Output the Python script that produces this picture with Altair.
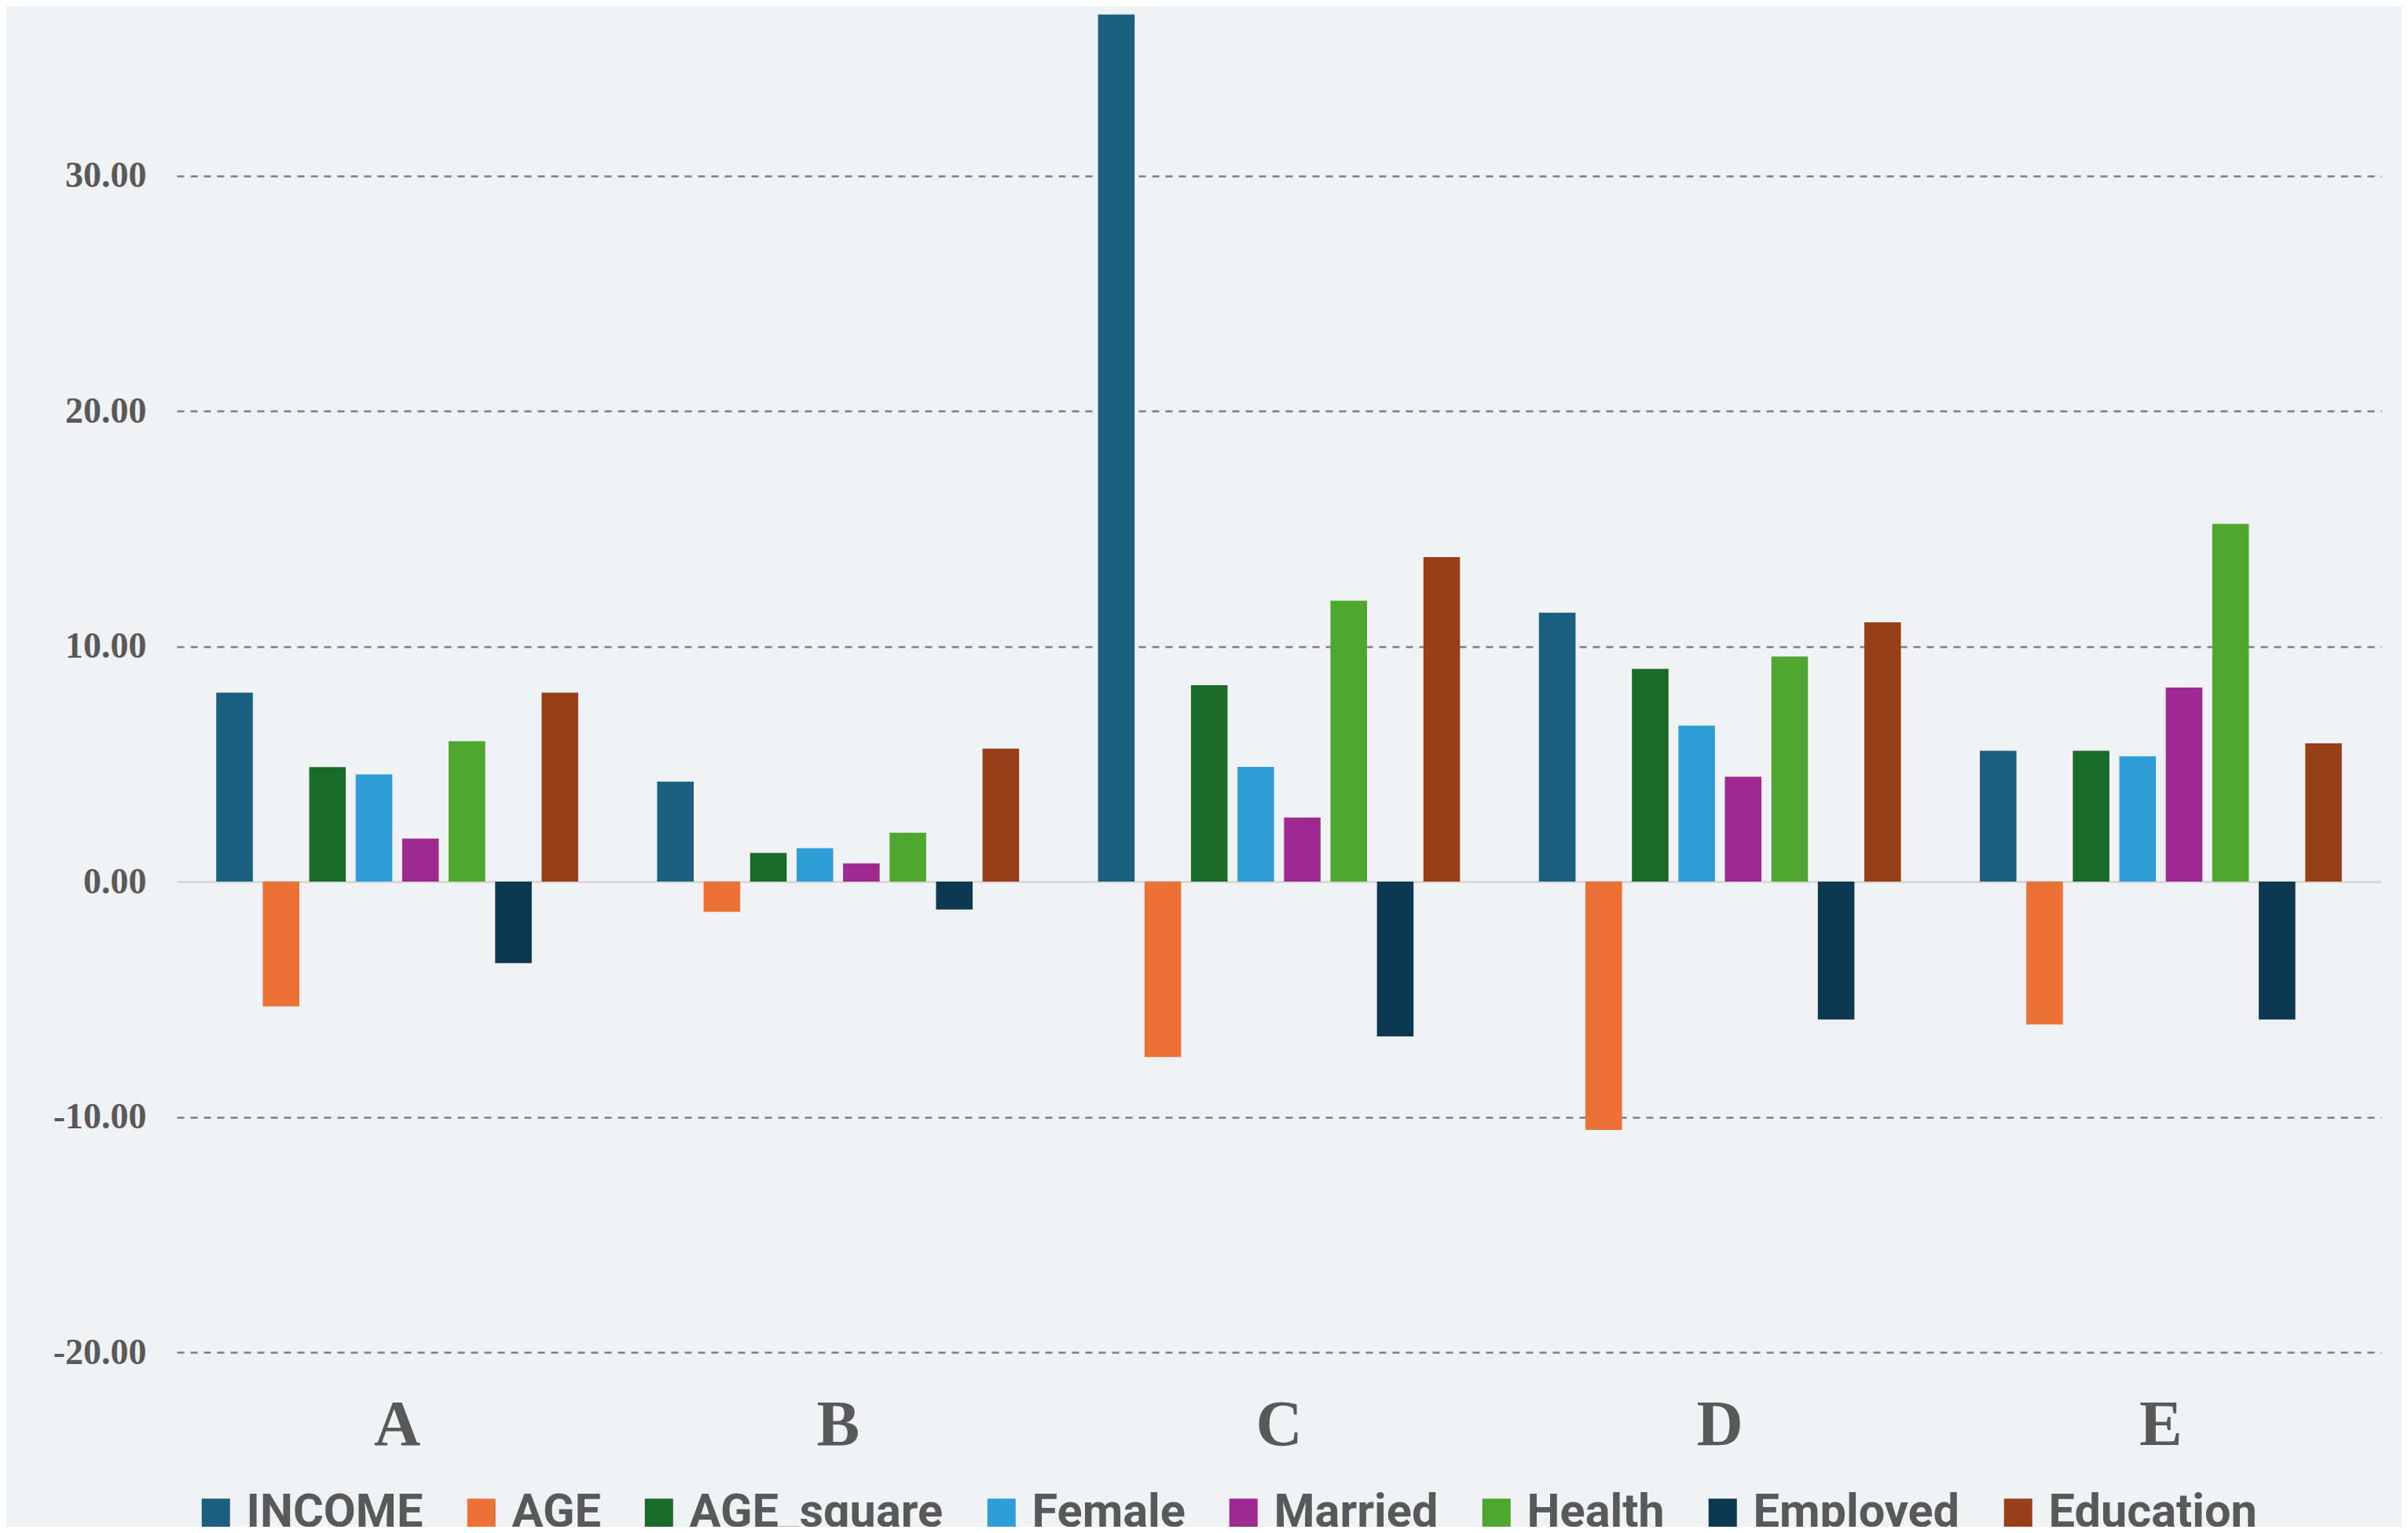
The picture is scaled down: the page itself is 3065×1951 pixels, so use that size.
import altair as alt
import pandas as pd

groups = ["A", "B", "C", "D", "E"]
series = ["INCOME", "AGE", "AGE_square", "Female", "Married", "Health", "Employed", "Education"]
colors = ["#1a5f80", "#eb7234", "#1a6b27", "#2f9ed6", "#9e2a91", "#4fa72f", "#0b3a50", "#973f18"]

income = [8.03, 4.25, 36.85, 11.43, 5.56]
age = [-5.30, -1.28, -7.45, -10.55, -6.07]
age_square = [4.87, 1.22, 8.35, 9.04, 5.56]
female = [4.56, 1.42, 4.88, 6.63, 5.33]
married = [1.83, 0.78, 2.72, 4.46, 8.25]
health = [5.97, 2.08, 11.94, 9.57, 15.20]
employed = [-3.46, -1.18, -6.58, -5.86, -5.86]
education = [8.03, 5.65, 13.79, 11.02, 5.88]

y_ticks = [-20, -10, 0, 10, 20, 30]

values = [income, age, age_square, female, married, health, employed, education]
rows = []
for s, vals in zip(series, values):
    for g, v in zip(groups, vals):
        rows.append({"group": g, "series": s, "value": v})
df = pd.DataFrame(rows)

chart = alt.Chart(df).mark_bar().encode(
    x=alt.X("group:N", sort=groups, title=None,
            scale=alt.Scale(paddingInner=0.179, paddingOuter=0.0895),
            axis=alt.Axis(labelAngle=0, labelFont="Liberation Serif", labelFontWeight="bold",
                          labelFontSize=82, labelColor="#595959", labelBaseline="alphabetic",
                          labelPadding=117, ticks=False, domain=False, grid=False)),
    xOffset=alt.XOffset("series:N", sort=series,
                        scale=alt.Scale(paddingInner=0.213, paddingOuter=0)),
    y=alt.Y("value:Q", title=None,
            scale=alt.Scale(domain=[-20, 37.2], nice=False, zero=False),
            axis=alt.Axis(values=y_ticks,
                          labelExpr="datum.value < 0 ? '-' + format(-datum.value, '.2f') : format(datum.value, '.2f')",
                          labelFont="Liberation Serif",
                          labelFontWeight="bold", labelFontSize=46, labelColor="#595959",
                          labelPadding=39, ticks=False, domain=False, grid=True,
                          gridColor={"condition": {"test": "datum.value === 0", "value": "#d9d9d9"}, "value": "#7f7f7f"},
                          gridDash={"condition": {"test": "datum.value === 0", "value": []}, "value": [9, 8]},
                          gridWidth={"condition": {"test": "datum.value === 0", "value": 3}, "value": 2.5})),
    color=alt.Color("series:N", sort=series, title=None,
                    scale=alt.Scale(domain=series, range=colors),
                    legend=alt.Legend(orient="none", legendX=20, legendY=1887, direction="horizontal",
                                      columns=8, symbolType="square", symbolSize=1296,
                                      symbolStrokeWidth=0, labelFont="Roboto",
                                      labelFontWeight="bold", labelFontSize=59.5, labelColor="#595959",
                                      labelOffset=9, labelLimit=600, columnPadding=44, padding=0)),
).properties(
    width=2806, height=1713,
    autosize=alt.AutoSizeParams(type="none"),
    padding={"left": 217, "top": 0, "right": 26, "bottom": 222},
    background="#f1f2f6",
).configure_view(stroke=None)

chart.save("out.html", embed_options={"renderer": "svg", "actions": False})
